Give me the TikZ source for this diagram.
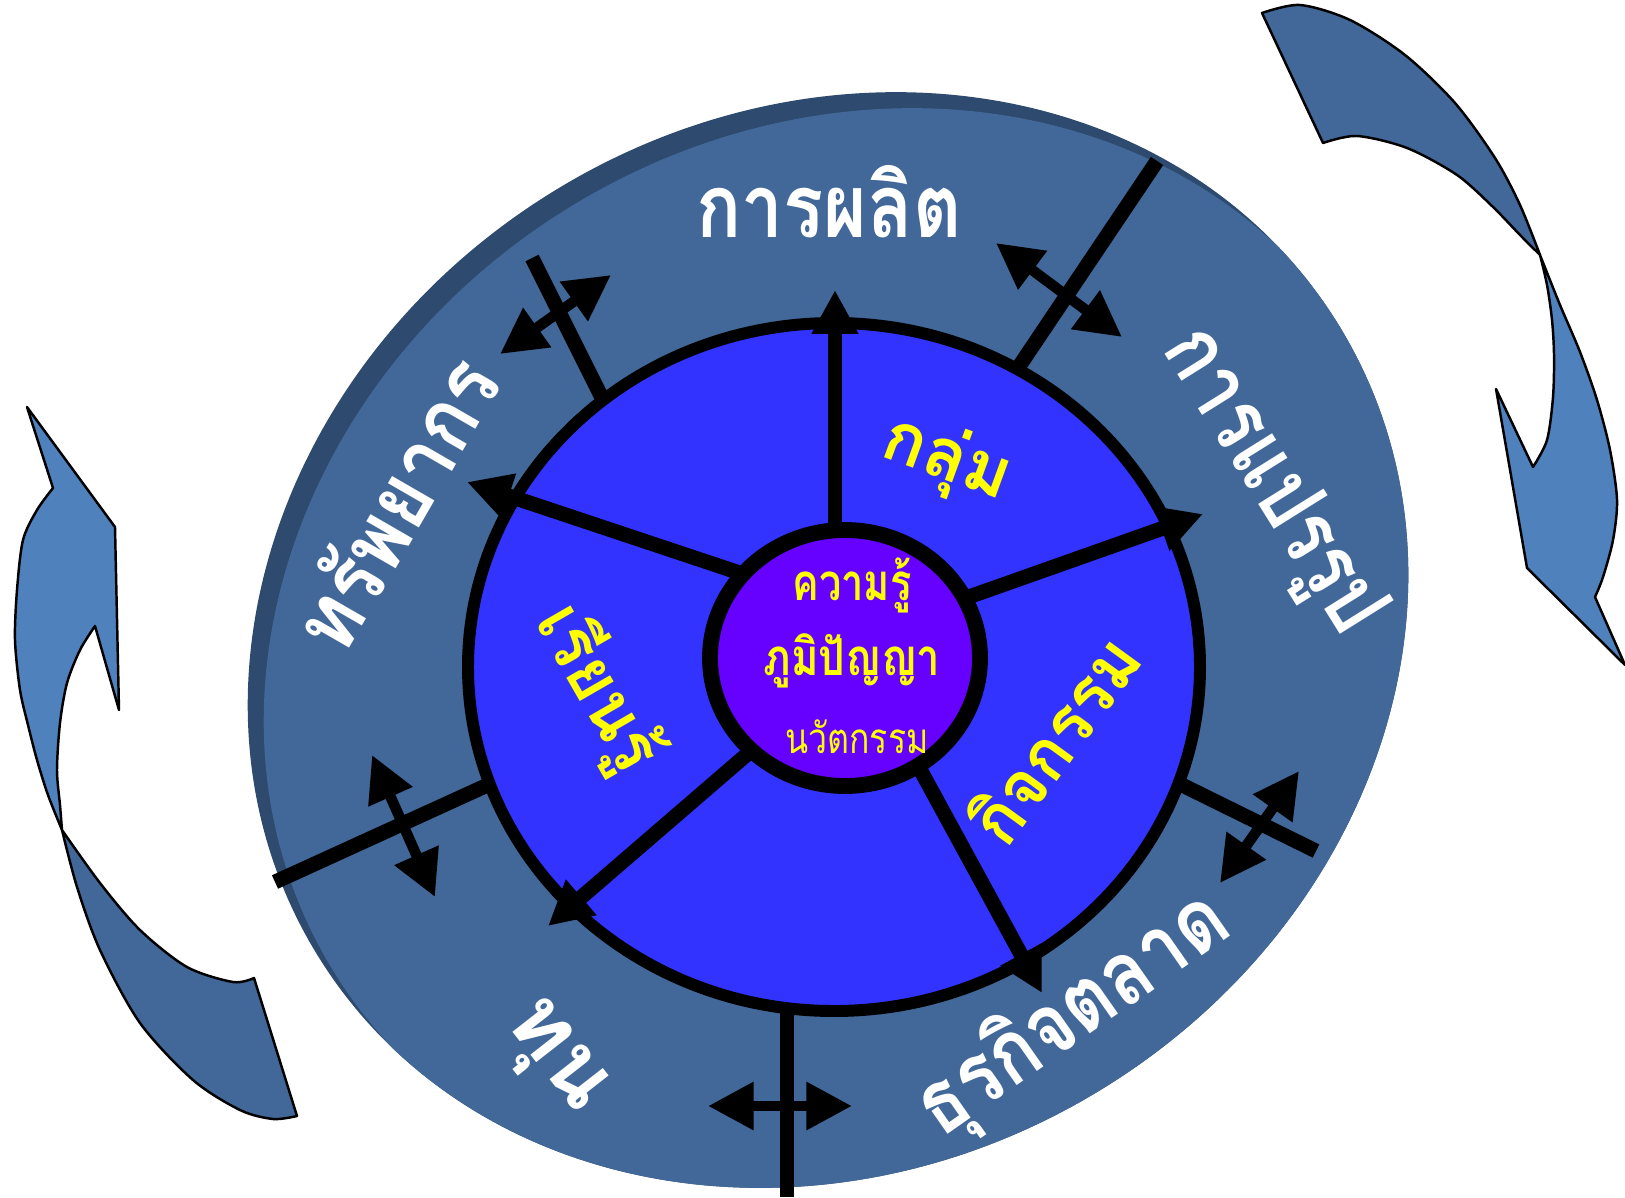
\documentclass[tikz,border=0pt]{standalone}
\usepackage{fontspec}
\newfontfamily\thai[Script=Thai]{Loma}
\usetikzlibrary{arrows.meta}
\definecolor{rimcol}{HTML}{2E4A6E}
\definecolor{facecol}{HTML}{416899}
\definecolor{arrlight}{HTML}{4F81BD}
\definecolor{arrdark}{HTML}{416899}
\definecolor{innerblue}{HTML}{3333FF}
\definecolor{corepurple}{HTML}{6600FF}
\definecolor{txtyellow}{HTML}{FFFF00}
\tikzset{
 ribbon/.style={draw=black, line width=0.7pt, line join=round},
 spoke/.style={line width=4.2pt, -{Triangle[length=12.5pt,width=12.5pt]}},
 crossline/.style={line width=4.2pt},
 dblarrow/.style={line width=3pt, {Triangle[length=13pt,width=13pt]}-{Triangle[length=13pt,width=13pt]}},
 ringlabel/.style={text=white, font=\thai\bfseries\fontsize{25}{30}\selectfont, anchor=base, inner sep=0pt},
 seglabel/.style={text=txtyellow, font=\thai\bfseries\fontsize{20}{24}\selectfont, anchor=base, inner sep=0pt},
 corelabel/.style={text=txtyellow, font=\thai\bfseries\fontsize{14.5}{17}\selectfont, anchor=base, inner sep=0pt},
 corelabelthin/.style={text=txtyellow, font=\thai\fontsize{12}{14}\selectfont, anchor=base, inner sep=0pt},
}
\newcommand{\sq}[2]{\scalebox{#1}[1]{#2}}
\def\discpath{[rotate around={32:(828,640)}] (828,640) ellipse [x radius=600, y radius=526]}
\begin{document}
\begin{tikzpicture}[x=0.01cm,y=-0.01cm]
\useasboundingbox (0,0) rectangle (1625,1197);
\fill[white] (0,0) rectangle (1625,1197);

% curved arrows
\filldraw[ribbon, fill=arrlight] (27,407) -- (115,527) -- (119,710) -- (95,626)
  -- plot[smooth] coordinates {(95,626) (80,650) (67,683) (60,723) (57,770) (60,805) (62,830)}
  -- plot[smooth] coordinates {(62,830) (48,795) (37,760) (28,725) (20,690) (15,640) (17,590) (23,540) (37,510) (53,488)}
  -- cycle;
\filldraw[ribbon, fill=arrdark] plot[smooth] coordinates {(62,830) (100,883) (140,930) (187,967) (233,982) (254,978)}
  -- (297,1116)
  -- plot[smooth] coordinates {(297,1116) (273,1119) (240,1110) (193,1080) (140,1023) (100,950) (77,887) (62,830)}
  -- cycle;
\filldraw[ribbon, fill=arrdark] (1262,13)
  -- plot[smooth] coordinates {(1262,13) (1300,5) (1350,20) (1405,55) (1455,103) (1495,158) (1520,205) (1540,255)}
  -- plot[smooth] coordinates {(1540,255) (1520,235) (1493,207) (1457,175) (1407,148) (1357,136) (1323,143)}
  -- cycle;
\filldraw[ribbon, fill=arrlight] plot[smooth] coordinates {(1540,255) (1560,305) (1580,352) (1597,400) (1610,450) (1617,500) (1613,540) (1603,577) (1595,597)}
  -- (1625,665) -- (1527,568) -- (1496,389) -- (1533,467)
  -- plot[smooth] coordinates {(1533,467) (1547,440) (1553,397) (1554,355) (1552,320) (1547,285) (1540,255)}
  -- cycle;

% disc with rim
\fill[rimcol] \discpath;
\begin{scope}
  \clip \discpath;
  \fill[facecol, shift={(16,16)}] \discpath;
\end{scope}

% crossing lines with double arrows
\coordinate (a1) at (532,258); \coordinate (a2) at (603,400);
\coordinate (a3) at (500,354); \coordinate (a4) at (611,275);
\coordinate (b1) at (1157,161); \coordinate (b2) at (1018,368);
\coordinate (b3) at (996,243); \coordinate (b4) at (1122,337);
\coordinate (c1) at (275,882); \coordinate (c2) at (492,783);
\coordinate (c3) at (372,755); \coordinate (c4) at (435,897);
\coordinate (d1) at (1180,784); \coordinate (d2) at (1316,851);
\coordinate (d3) at (1299,771); \coordinate (d4) at (1220,883);
\coordinate (e1) at (787,995); \coordinate (e2) at (787,1197);
\coordinate (e3) at (708,1106); \coordinate (e4) at (852,1106);
\draw[crossline] (a1) -- (a2);
\draw[crossline] (b1) -- (b2);
\draw[crossline] (c1) -- (c2);
\draw[crossline] (d1) -- (d2);
\draw[crossline] (e1) -- (e2);
\draw[dblarrow] (a3) -- (a4);
\draw[dblarrow] (b3) -- (b4);
\draw[dblarrow] (c3) -- (c4);
\draw[dblarrow] (d3) -- (d4);
\draw[dblarrow] (e3) -- (e4);

% inner ring
\filldraw[fill=innerblue, draw=black, line width=3.4pt] (834,667) ellipse [x radius=366, y radius=344];

% spokes
\coordinate (s1a) at (835,540); \coordinate (s1b) at (835,290);
\coordinate (s2a) at (960,600); \coordinate (s2b) at (1203,514);
\coordinate (s3a) at (740,573); \coordinate (s3b) at (467,482);
\coordinate (s4a) at (752,750); \coordinate (s4b) at (548,926);
\coordinate (s5a) at (915,760); \coordinate (s5b) at (1042,993);
\draw[spoke] (s1a) -- (s1b);
\draw[spoke] (s2a) -- (s2b);
\draw[spoke] (s3a) -- (s3b);
\draw[spoke] (s4a) -- (s4b);
\draw[spoke] (s5a) -- (s5b);

% core
\filldraw[fill=corepurple, draw=black, line width=4.5pt] (845,658) ellipse [x radius=135, y radius=128];

% ring labels
\node[ringlabel] (l1) at (829,237) {\sq{0.85}{การผลิต}};
\node[ringlabel, rotate=-58] (l2) at (1252,494) {\sq{0.83}{การแปรรูป}};
\node[ringlabel, rotate=60] (l3) at (424,520) {\sq{0.88}{ทรัพยากร}};
\node[ringlabel, rotate=-52] (l4) at (541,1068) {ทุน};
\node[ringlabel, rotate=35] (l5) at (1088,1036) {\sq{0.85}{ธุรกิจตลาด}};

% segment labels
\node[seglabel, rotate=-20] (g1) at (940,478) {กลุ่ม};
\node[seglabel, rotate=54] (g2) at (1076,755) {\sq{0.95}{กิจกรรม}};
\node[seglabel, rotate=-60] (g3) at (579,699) {\sq{0.95}{เรียนรู้}};

% core labels
\node[corelabel] (k1) at (852,600) {\sq{0.78}{ความรู้}};
\node[corelabel] (k2) at (852,675) {\sq{0.82}{ภูมิปัญญา}};
\node[corelabelthin] (k3) at (857,753) {\sq{0.8}{นวัตกรรม}};
\end{tikzpicture}
\end{document}
